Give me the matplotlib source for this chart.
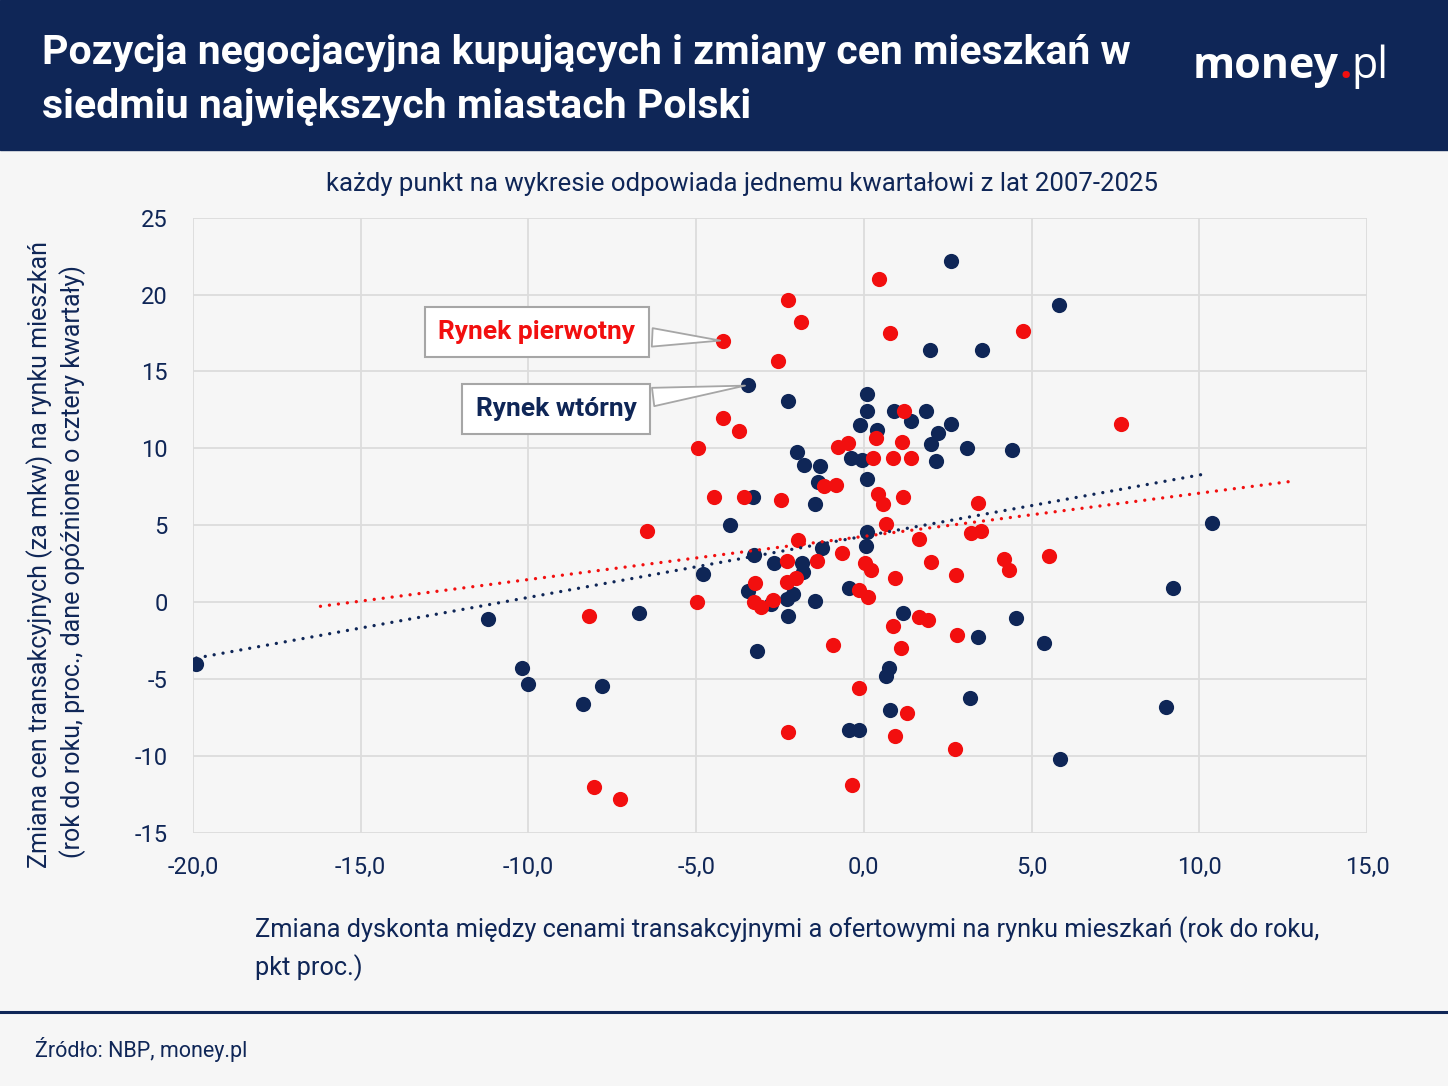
import matplotlib
matplotlib.use("Agg")
import matplotlib.pyplot as plt
from matplotlib import font_manager
import numpy as np

# czcionki
names = {f.name for f in font_manager.fontManager.ttflist}
narrow = 'Liberation Sans Narrow' if 'Liberation Sans Narrow' in names else 'Roboto'
plt.rcParams['font.family'] = ['Roboto', 'DejaVu Sans']

NAVY = '#0f2657'
RED = '#f20f0f'
BG = '#f6f6f6'

# Dane - rynek wtórny (x: zmiana dyskonta, y: zmiana cen)
wt_x = [-19.9, -11.2, -10.2, -10.0, -8.37, -7.8, -6.7, -4.8, -4.0, -3.3,
        -3.46, -2.25, 0.1, 0.08, 0.9, 1.85, 1.4, 2.6, -0.12, 0.4,
        2.2, 2.0, 2.15, -2.0, -1.78, -1.3, -0.38, -0.05, 0.08, -1.37,
        -1.47, 2.6, 1.97, 5.83, 3.52, 3.07, 4.42, -3.27, -2.67, -1.85,
        -1.82, -1.26, 0.08, 0.06, -3.44, -2.78, -2.3, -2.1, -2.25, -1.47,
        -0.45, -3.18, 1.18, 0.74, 0.67, 0.77, -0.44, -0.14, 10.37, 9.22,
        4.54, 3.4, 5.36, 3.16, 9.0, 5.84]
wt_y = [-4.0, -1.1, -4.3, -5.35, -6.6, -5.45, -0.7, 1.8, 5.0, 6.86,
        14.1, 13.07, 13.55, 12.44, 12.44, 12.44, 11.75, 11.6, 11.5, 11.2,
        11.0, 10.3, 9.2, 9.75, 8.9, 8.88, 9.4, 9.25, 8.0, 7.84,
        6.36, 22.2, 16.4, 19.35, 16.4, 10.0, 9.86, 3.06, 2.52, 2.52,
        1.97, 3.5, 4.58, 3.65, 0.74, -0.15, 0.2, 0.5, -0.88, 0.07,
        0.89, -3.19, -0.74, -4.28, -4.82, -7.04, -8.3, -8.34, 5.17, 0.89,
        -1.02, -2.28, -2.63, -6.25, -6.8, -10.18]

# Dane - rynek pierwotny
pi_x = [0.45, -2.25, -1.88, 0.77, -4.2, -2.55, -4.2, -3.72, -4.95, 1.2,
        0.35, 1.15, -0.77, -0.47, 0.28, 0.88, 1.4, -1.2, -0.84, -4.48,
        -3.57, -2.48, 0.41, 0.58, 1.18, 0.67, 4.73, 7.67, 3.4, -6.46,
        -4.97, -8.19, -1.96, -2.29, -2.28, -2.03, -3.24, -3.27, -3.07, -2.7,
        -1.39, -0.65, 1.64, 2.0, 0.02, 0.2, 0.93, -0.14, 0.12, 0.87,
        1.64, 1.91, 1.11, -0.93, -0.13, 1.29, 0.94, -2.25, -0.35, -8.04,
        -7.28, 2.75, 2.79, 2.73, 3.19, 3.5, 4.17, 4.34, 5.53]
pi_y = [21.04, 19.65, 18.24, 17.48, 17.0, 15.65, 12.0, 11.1, 10.0, 12.46,
        10.7, 10.38, 10.08, 10.34, 9.34, 9.36, 9.38, 7.58, 7.6, 6.86,
        6.86, 6.65, 7.0, 6.36, 6.86, 5.08, 17.65, 11.6, 6.45, 4.63,
        0.0, -0.89, 4.02, 2.67, 1.32, 1.54, 1.22, 0.02, -0.3, 0.13,
        2.67, 3.21, 4.08, 2.63, 2.52, 2.08, 1.54, 0.78, 0.35, -1.56,
        -1.0, -1.17, -2.98, -2.82, -5.62, -7.19, -8.69, -8.45, -11.88, -12.03,
        -12.83, 1.76, -2.15, -9.55, 4.52, 4.63, 2.78, 2.06, 3.0]

# zakres linii trendu
trend_wt_x = [-19.9, 10.3]
trend_pi_x = [-16.2, 12.7]

x_ticks = [-20, -15, -10, -5, 0, 5, 10, 15]
y_ticks = [-15, -10, -5, 0, 5, 10, 15, 20, 25]

W, H = 1448, 1086
fig = plt.figure(figsize=(W / 100, H / 100), dpi=100, facecolor=BG)
ax = fig.add_axes([193/W, 253.3/H, 1174/W, 615/H])

# pasek z tytułem
fig.patches.append(plt.Rectangle((0, 0.8619), 1, 0.1381, transform=fig.transFigure,
                                 color=NAVY, zorder=0))
fig.text(42/W, 1 - 64/H, 'Pozycja negocjacyjna kupujących i zmiany cen mieszkań w',
         color='white', fontsize=29.5, fontweight='bold', family=[narrow, 'DejaVu Sans'],
         va='baseline', ha='left')
fig.text(42/W, 1 - 118/H, 'siedmiu największych miastach Polski',
         color='white', fontsize=29.5, fontweight='bold', family=[narrow, 'DejaVu Sans'],
         va='baseline', ha='left')

# logo money.pl - kawałki ustawiane jeden za drugim
logo_font = ['Open Sans', 'DejaVu Sans']
logo_y = 1 - 78/H
x_px = 1193
fig.canvas.draw()
renderer = fig.canvas.get_renderer()
for part, col, wt in [('money', 'white', 'bold'), ('.', RED, 'bold'), ('pl', 'white', 'normal')]:
    t = fig.text(x_px / W, logo_y, part, color=col, fontsize=31, fontweight=wt,
                 family=logo_font, va='baseline', ha='left')
    x_px += t.get_window_extent(renderer).width

# podtytuł
fig.text(742/W, 1 - 184/H,
         'każdy punkt na wykresie odpowiada jednemu kwartałowi z lat 2007-2025',
         color=NAVY, fontsize=18.5, ha='center', va='center')

ax.set_facecolor(BG)
ax.set_xlim(-20, 15)
ax.set_ylim(-15, 25)
ax.set_xticks(x_ticks)
ax.set_yticks(y_ticks)
ax.set_xticklabels([f'{v:.1f}'.replace('.', ',') for v in x_ticks])
ax.set_yticklabels([str(v) for v in y_ticks])
ax.tick_params(length=0, labelsize=17, labelcolor=NAVY)
ax.tick_params(axis='x', pad=17)
ax.tick_params(axis='y', pad=18)
ax.grid(True, color='#dcdcdc', lw=1.3)
ax.set_axisbelow(True)
for s in ax.spines.values():
    s.set_visible(False)

# punkty
ax.scatter(wt_x, wt_y, s=120, color=NAVY, linewidths=0, zorder=3)
ax.scatter(pi_x, pi_y, s=120, color=RED, linewidths=0, zorder=4)

# linie trendu
for xs, ys, rng, c in [(wt_x, wt_y, trend_wt_x, NAVY), (pi_x, pi_y, trend_pi_x, RED)]:
    a, b = np.polyfit(xs, ys, 1)
    tx = np.array(rng)
    ax.plot(tx, a * tx + b, color=c, lw=2.4, dashes=(0.01, 2.7),
            dash_capstyle='round', zorder=5)

# opisy serii
box = dict(boxstyle='square,pad=0.5', fc='white', ec='#a6a6a6', lw=1.5)
arrow = dict(arrowstyle='wedge,tail_width=0.7,shrink_factor=0.5',
             fc='white', ec='#a6a6a6', lw=1.3)
ax.annotate('Rynek pierwotny', xy=(-4.2, 17.0), xytext=(537, H - 332),
            textcoords='figure pixels', ha='center', va='center',
            color=RED, fontsize=19, fontweight='bold', family=[narrow, 'DejaVu Sans'],
            bbox=box, arrowprops=arrow, zorder=6)
ax.annotate('Rynek wtórny', xy=(-3.46, 14.1), xytext=(556, H - 409),
            textcoords='figure pixels', ha='center', va='center',
            color=NAVY, fontsize=19, fontweight='bold', family=[narrow, 'DejaVu Sans'],
            bbox=box, arrowprops=arrow, zorder=6)

# opisy osi
fig.text(40/W, 1 - 555/H, 'Zmiana cen transakcyjnych (za mkw) na rynku mieszkań',
         rotation=90, color=NAVY, fontsize=18, ha='center', va='center')
fig.text(73/W, 1 - 562/H, '(rok do roku, proc., dane opóźnione o cztery kwartały)',
         rotation=90, color=NAVY, fontsize=18, ha='center', va='center')
fig.text(255/W, 1 - 930/H,
         'Zmiana dyskonta między cenami transakcyjnymi a ofertowymi na rynku mieszkań (rok do roku,',
         color=NAVY, fontsize=18.3, ha='left', va='center')
fig.text(255/W, 1 - 968/H, 'pkt proc.)', color=NAVY, fontsize=18.3, ha='left', va='center')

# stopka
fig.add_artist(plt.Line2D([0, 1], [1 - 1012/H] * 2, transform=fig.transFigure,
                          color=NAVY, lw=2.2))
fig.text(35/W, 1 - 1049/H, 'Źródło: NBP, money.pl', color=NAVY, fontsize=15.5,
         ha='left', va='center')

fig.savefig('out.png', dpi=100, facecolor=BG)
